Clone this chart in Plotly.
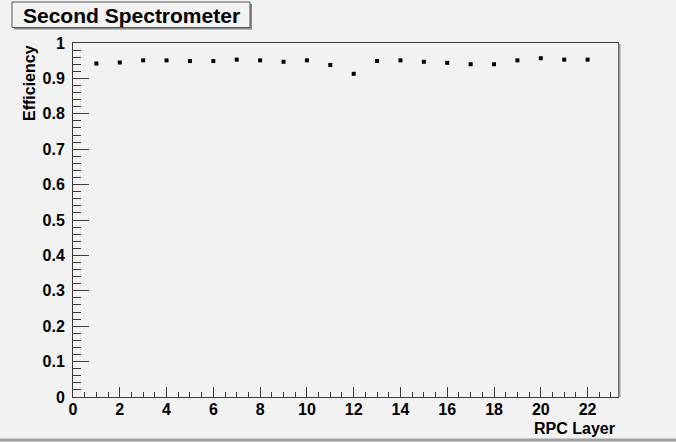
import plotly.graph_objects as go

layers = list(range(1, 23))
efficiency = [0.942, 0.945, 0.951, 0.951, 0.949, 0.949, 0.953, 0.951, 0.947, 0.951,
              0.938, 0.913, 0.949, 0.951, 0.947, 0.944, 0.940, 0.940, 0.951, 0.957,
              0.953, 0.953]
title_text = "Second Spectrometer"
x_title = "RPC Layer"
y_title = "Efficiency"

W, H = 676, 442
L, R, T, B = 73, 618, 43, 397  # plot area pixel bounds
pw, ph = R - L, B - T

def px(x):
    return (x - L) / pw

def py(y):
    return (B - y) / ph

bg = "#f2f2f2"
axis_col = "#3a3a3a"
font_fam = "Liberation Sans, Arial, sans-serif"

fig = go.Figure()
fig.add_trace(go.Scatter(
    x=layers, y=efficiency, mode="markers",
    marker=dict(symbol="square", size=4, color="black", line=dict(width=0)),
    showlegend=False,
))

tickfont = dict(family=font_fam, size=16, color="black", weight="bold")

fig.update_layout(
    width=W, height=H,
    margin=dict(l=L, r=W - R, t=T, b=H - B, pad=0),
    paper_bgcolor=bg, plot_bgcolor=bg,
    xaxis=dict(
        range=[0, 23.3], tick0=0, dtick=2, ticks="inside", ticklen=10,
        tickcolor=axis_col, tickwidth=1, showline=True, mirror=True,
        linecolor=axis_col, linewidth=1, showgrid=False, zeroline=False,
        tickfont=tickfont, ticklabelstandoff=-2,
        minor=dict(dtick=0.5, tick0=0, ticks="inside", ticklen=5,
                   tickcolor=axis_col, showgrid=False),
    ),
    yaxis=dict(
        range=[0, 1], tick0=0, dtick=0.1, ticks="inside", ticklen=16,
        tickcolor=axis_col, tickwidth=1, showline=True, mirror=True,
        linecolor=axis_col, linewidth=1, showgrid=False, zeroline=False,
        tickfont=tickfont, ticklabelstandoff=4,
        minor=dict(dtick=0.02, tick0=0, ticks="inside", ticklen=8,
                   tickcolor=axis_col, showgrid=False),
    ),
)

shapes = [
    # frame shadow on right
    dict(type="line", xref="paper", yref="paper", x0=px(R + 1.5), x1=px(R + 1.5),
         y0=py(B), y1=py(T + 1), line=dict(color="#9a9a9a", width=2), layer="above"),
    # title box shadow
    dict(type="rect", xref="paper", yref="paper", x0=px(14), x1=px(252),
         y0=py(29.5), y1=py(4), fillcolor="#8a8a8a", line=dict(width=0), layer="above"),
    # title box
    dict(type="rect", xref="paper", yref="paper", x0=px(12), x1=px(250),
         y0=py(27.5), y1=py(2), fillcolor=bg, line=dict(color="#555555", width=1),
         layer="above"),
    # canvas bottom border
    dict(type="line", xref="paper", yref="paper", x0=px(0), x1=px(W),
         y0=py(440), y1=py(440), line=dict(color="#a0a0a0", width=3), layer="above"),
]
fig.update_layout(shapes=shapes)

fig.add_annotation(text=title_text, xref="paper", yref="paper",
                   x=px(131), y=py(15), xanchor="center", yanchor="middle",
                   showarrow=False,
                   font=dict(family=font_fam, size=21, color="black", weight="bold"))
fig.add_annotation(text=y_title, xref="paper", yref="paper",
                   x=px(29), y=py(43), xanchor="center", yanchor="top",
                   textangle=-90, showarrow=False,
                   font=dict(family=font_fam, size=16, color="black", weight="bold"))
fig.add_annotation(text=x_title, xref="paper", yref="paper",
                   x=px(617), y=py(428.5), xanchor="right", yanchor="middle",
                   showarrow=False,
                   font=dict(family=font_fam, size=16, color="black", weight="bold"))

fig.write_html("out.html", config={"displayModeBar": False},
               post_script="document.body.style.margin='0';"
                           "document.body.style.background='#f2f2f2';")
